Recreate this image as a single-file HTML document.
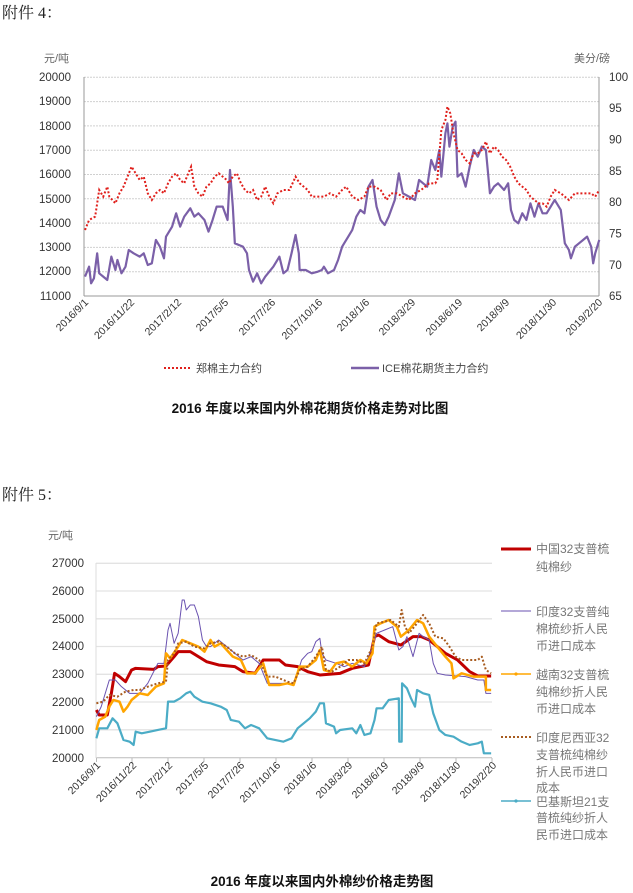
<!DOCTYPE html>
<html><head><meta charset="utf-8"><style>
html,body{margin:0;padding:0;background:#fff;width:633px;height:893px;overflow:hidden}
svg{display:block}
text{font-family:"Liberation Sans","Noto Sans CJK SC",sans-serif}
</style></head><body>
<svg width="633" height="893" viewBox="0 0 633 893" xmlns="http://www.w3.org/2000/svg">
<text x="2" y="18" font-size="16" fill="#222" style="font-family:'Liberation Serif','Noto Serif CJK SC',serif">附件 4：</text>
<text x="2" y="500" font-size="16" fill="#222" style="font-family:'Liberation Serif','Noto Serif CJK SC',serif">附件 5：</text>

<!-- Chart 1 -->
<g stroke="#d0d0d0" stroke-width="1" stroke-dasharray="2,1">
<line x1="84" x2="599" y1="77.3" y2="77.3"/><line x1="84" x2="599" y1="101.6" y2="101.6"/><line x1="84" x2="599" y1="125.9" y2="125.9"/><line x1="84" x2="599" y1="150.2" y2="150.2"/><line x1="84" x2="599" y1="174.5" y2="174.5"/><line x1="84" x2="599" y1="198.8" y2="198.8"/><line x1="84" x2="599" y1="223.1" y2="223.1"/><line x1="84" x2="599" y1="247.4" y2="247.4"/><line x1="84" x2="599" y1="271.7" y2="271.7"/>
</g>
<line x1="84" x2="599" y1="296" y2="296" stroke="#999"/>
<line x1="84" x2="84" y1="77" y2="296" stroke="#999"/>
<line x1="599" x2="599" y1="77" y2="296" stroke="#999"/>
<g font-size="11.5" fill="#333" text-anchor="end">
<text x="71" y="81">20000</text><text x="71" y="105">19000</text><text x="71" y="130">18000</text><text x="71" y="154">17000</text><text x="71" y="178">16000</text><text x="71" y="203">15000</text><text x="71" y="227">14000</text><text x="71" y="251">13000</text><text x="71" y="275">12000</text><text x="71" y="300">11000</text>
</g>
<g font-size="11.5" fill="#333">
<text x="609" y="81">100</text><text x="609" y="112">95</text><text x="609" y="143.5">90</text><text x="609" y="175">85</text><text x="609" y="206">80</text><text x="609" y="237.5">75</text><text x="609" y="269">70</text><text x="609" y="300">65</text>
</g>
<text x="44" y="62" font-size="11" fill="#666">元/吨</text>
<text x="574" y="62" font-size="11" fill="#666">美分/磅</text>
<g font-size="10.5" fill="#333" text-anchor="end">
<text transform="translate(89,303) rotate(-45)">2016/9/1</text>
<text transform="translate(135,303) rotate(-45)">2016/11/22</text>
<text transform="translate(182,303) rotate(-45)">2017/2/12</text>
<text transform="translate(229,303) rotate(-45)">2017/5/5</text>
<text transform="translate(276,303) rotate(-45)">2017/7/26</text>
<text transform="translate(323,303) rotate(-45)">2017/10/16</text>
<text transform="translate(370,303) rotate(-45)">2018/1/6</text>
<text transform="translate(416,303) rotate(-45)">2018/3/29</text>
<text transform="translate(463,303) rotate(-45)">2018/6/19</text>
<text transform="translate(510,303) rotate(-45)">2018/9/9</text>
<text transform="translate(557,303) rotate(-45)">2018/11/30</text>
<text transform="translate(603,303) rotate(-45)">2019/2/20</text>
</g>
<g transform="translate(0,40) scale(0.4049,0.3333)" fill="none">
<polyline vector-effect="non-scaling-stroke" stroke="#7b60a8" stroke-width="2.2" stroke-linejoin="round" points="210,710 220,680 225,730 232,715 240,640 245,700 255,710 265,720 275,650 285,690 290,660 300,700 310,680 318,630 330,640 345,650 355,640 365,675 375,670 385,600 395,620 405,655 410,590 425,560 435,520 445,560 455,530 470,505 480,530 490,520 505,540 515,575 525,540 535,500 550,500 562,540 568,390 575,500 580,610 590,615 600,620 610,640 615,690 625,725 635,700 645,730 655,710 665,695 675,680 690,650 700,700 710,690 720,640 730,585 738,640 740,690 755,690 770,700 785,695 795,690 800,680 810,700 825,690 835,660 845,620 850,610 860,590 870,570 880,530 890,510 900,520 910,440 920,420 930,500 940,540 950,555 960,530 975,480 985,400 995,460 1010,470 1025,480 1035,420 1045,430 1055,440 1065,360 1075,390 1085,330 1090,410 1100,280 1105,250 1110,320 1118,260 1125,245 1130,410 1140,400 1150,440 1160,380 1170,330 1180,350 1190,320 1200,330 1210,460 1220,440 1230,430 1245,450 1255,430 1262,510 1270,540 1280,550 1290,520 1300,540 1310,490 1320,530 1330,490 1340,520 1350,520 1360,500 1370,480 1385,510 1395,610 1405,630 1410,655 1420,620 1430,610 1440,600 1450,590 1460,620 1465,670 1470,640 1480,600"/>
<polyline vector-effect="non-scaling-stroke" stroke="#e0201c" stroke-width="2" stroke-dasharray="2,2" points="210,570 220,540 235,530 240,490 245,450 255,470 265,440 270,470 285,490 295,460 305,440 315,410 325,380 335,400 345,420 355,410 365,460 375,480 385,460 395,450 405,460 415,430 425,410 435,400 445,420 455,430 465,400 472,380 480,440 490,460 500,470 510,440 520,430 530,410 540,400 550,410 560,420 565,430 575,410 585,400 595,430 605,450 615,460 625,450 635,480 645,470 655,440 665,470 675,490 685,460 700,450 715,450 730,410 740,430 750,440 760,450 770,470 785,470 800,470 815,460 830,470 845,450 855,440 870,470 885,480 900,470 910,440 925,440 940,450 955,480 965,460 980,460 995,470 1010,480 1025,460 1040,450 1060,430 1075,430 1080,420 1090,270 1100,240 1105,200 1112,220 1120,280 1130,330 1140,340 1150,360 1160,370 1170,340 1180,340 1190,330 1200,305 1210,340 1220,320 1230,330 1240,350 1250,360 1260,380 1270,410 1280,430 1290,440 1300,450 1310,470 1320,480 1330,490 1340,490 1350,500 1360,470 1370,450 1385,460 1395,470 1405,480 1420,460 1440,460 1460,460 1470,470 1480,450"/>
</g>
<line x1="164" x2="192" y1="368" y2="368" stroke="#e0201c" stroke-width="2" stroke-dasharray="2,2"/>
<text x="196" y="372" font-size="11" fill="#444">郑棉主力合约</text>
<line x1="351" x2="379" y1="368" y2="368" stroke="#7b60a8" stroke-width="2.5"/>
<text x="382" y="372" font-size="11" fill="#444">ICE棉花期货主力合约</text>
<text x="310" y="413" font-size="13.5" font-weight="bold" fill="#111" text-anchor="middle">2016 年度以来国内外棉花期货价格走势对比图</text>

<!-- Chart 2 -->
<g stroke="#e3e3e3" stroke-width="1.3">
<line x1="96" x2="492" y1="563.3" y2="563.3"/><line x1="96" x2="492" y1="591" y2="591"/><line x1="96" x2="492" y1="618.8" y2="618.8"/><line x1="96" x2="492" y1="646.5" y2="646.5"/><line x1="96" x2="492" y1="674.3" y2="674.3"/><line x1="96" x2="492" y1="702" y2="702"/><line x1="96" x2="492" y1="729.8" y2="729.8"/>
</g>
<line x1="96" x2="492" y1="757.7" y2="757.7" stroke="#bbb"/>
<line x1="96" x2="96" y1="563" y2="758" stroke="#ddd"/>
<g stroke="#bbb"><line x1="96.5" x2="96.5" y1="758" y2="762"/><line x1="132" x2="132" y1="758" y2="762"/><line x1="168" x2="168" y1="758" y2="762"/><line x1="204" x2="204" y1="758" y2="762"/><line x1="240" x2="240" y1="758" y2="762"/><line x1="276" x2="276" y1="758" y2="762"/><line x1="312" x2="312" y1="758" y2="762"/><line x1="348" x2="348" y1="758" y2="762"/><line x1="384" x2="384" y1="758" y2="762"/><line x1="420" x2="420" y1="758" y2="762"/><line x1="456" x2="456" y1="758" y2="762"/><line x1="492" x2="492" y1="758" y2="762"/></g>
<g font-size="11.5" fill="#333" text-anchor="end">
<text x="84" y="567">27000</text><text x="84" y="595">26000</text><text x="84" y="623">25000</text><text x="84" y="650">24000</text><text x="84" y="678">23000</text><text x="84" y="706">22000</text><text x="84" y="734">21000</text><text x="84" y="762">20000</text>
</g>
<text x="48" y="539" font-size="11" fill="#666">元/吨</text>
<g font-size="10.5" fill="#333" text-anchor="end">
<text transform="translate(101,766) rotate(-45)">2016/9/1</text>
<text transform="translate(137,766) rotate(-45)">2016/11/22</text>
<text transform="translate(173,766) rotate(-45)">2017/2/12</text>
<text transform="translate(209,766) rotate(-45)">2017/5/5</text>
<text transform="translate(245,766) rotate(-45)">2017/7/26</text>
<text transform="translate(281,766) rotate(-45)">2017/10/16</text>
<text transform="translate(317,766) rotate(-45)">2018/1/6</text>
<text transform="translate(353,766) rotate(-45)">2018/3/29</text>
<text transform="translate(389,766) rotate(-45)">2018/6/19</text>
<text transform="translate(425,766) rotate(-45)">2018/9/9</text>
<text transform="translate(461,766) rotate(-45)">2018/11/30</text>
<text transform="translate(497,766) rotate(-45)">2019/2/20</text>
</g>
<g transform="translate(0,520) scale(0.4049,0.3333)" fill="none" stroke-linejoin="round">
<polyline vector-effect="non-scaling-stroke" stroke="#4bacc6" stroke-width="2.2" points="238,655 245,625 265,625 278,595 290,610 305,660 320,665 330,675 335,635 350,640 370,635 390,630 410,625 415,545 430,545 445,535 460,520 470,515 480,530 500,545 520,550 545,560 560,570 570,600 590,605 605,625 620,615 640,625 660,655 700,665 720,655 735,625 750,610 765,595 780,575 790,550 800,550 805,610 825,620 830,640 840,630 870,625 880,640 890,615 900,645 915,640 925,600 930,565 945,565 960,540 985,535 986,665 992,665 993,490 1005,505 1015,535 1025,560 1030,510 1045,520 1060,525 1070,580 1085,630 1100,645 1120,650 1140,665 1160,675 1180,670 1190,665 1195,700 1213,700"/>
<polyline vector-effect="non-scaling-stroke" stroke="#c00000" stroke-width="3" points="238,570 245,585 265,585 275,520 283,460 295,470 310,485 325,450 335,445 380,448 390,440 410,438 430,410 440,395 470,395 490,410 510,425 540,435 580,440 600,455 630,460 650,420 690,420 705,435 735,440 760,455 790,465 840,460 870,445 910,435 925,350 935,345 960,365 990,375 1020,350 1040,350 1060,360 1080,380 1100,400 1130,420 1160,455 1180,468 1213,468"/>
<polyline vector-effect="non-scaling-stroke" stroke="#6a52b0" stroke-width="1" points="238,590 250,560 270,480 285,480 300,500 320,520 345,520 365,490 390,430 405,430 415,330 420,310 430,370 440,340 450,240 455,240 460,270 470,255 480,255 490,290 500,360 510,380 520,380 540,360 560,380 580,400 600,420 620,410 640,430 660,490 700,490 725,495 745,420 760,400 770,395 780,365 790,355 795,400 805,420 830,430 850,440 870,430 900,440 920,380 930,340 950,330 970,320 985,390 995,380 1005,350 1020,410 1035,340 1045,350 1060,360 1070,430 1080,460 1100,465 1150,470 1180,480 1195,480 1200,520 1213,520"/>
<polyline vector-effect="non-scaling-stroke" stroke="#ffa500" stroke-width="2.5" points="238,630 245,600 260,590 270,560 280,540 295,545 305,575 315,560 325,540 345,520 365,525 385,500 405,490 410,400 420,415 440,380 450,360 470,370 490,380 505,395 520,360 530,380 545,370 560,390 575,410 595,420 610,460 630,460 650,430 665,495 690,495 710,490 725,495 740,440 760,440 780,420 790,390 800,450 815,455 830,430 850,425 870,440 890,420 905,430 920,400 925,320 940,310 960,300 980,320 990,350 1010,330 1030,300 1045,310 1060,350 1080,380 1100,410 1115,430 1120,475 1140,460 1170,470 1200,470 1200,510 1213,510"/>
<polyline vector-effect="non-scaling-stroke" stroke="#a85c20" stroke-width="2" stroke-dasharray="2,2" points="238,550 255,545 270,525 290,530 310,515 330,510 345,510 365,500 390,490 410,485 415,420 430,400 440,370 460,365 480,380 505,385 520,370 540,365 560,380 580,400 600,410 620,405 640,420 660,470 680,470 710,485 725,490 740,450 760,440 780,410 795,380 805,450 820,455 840,440 860,420 880,420 900,430 920,380 930,310 950,305 965,300 985,320 992,270 1000,320 1010,340 1030,310 1045,285 1060,310 1075,350 1095,355 1110,380 1125,410 1140,420 1160,420 1180,420 1190,410 1200,450 1213,460"/>
</g>
<!-- Legend 2 -->
<g font-size="12" fill="#777">
<line x1="501" x2="531" y1="549" y2="549" stroke="#c00000" stroke-width="3"/>
<text x="536" y="553">中国32支普梳</text><text x="536" y="571">纯棉纱</text>
<line x1="501" x2="531" y1="611" y2="611" stroke="#6a52b0" stroke-width="1"/>
<text x="536" y="616">印度32支普纯</text><text x="536" y="633">棉梳纱折人民</text><text x="536" y="650">币进口成本</text>
<line x1="501" x2="531" y1="674" y2="674" stroke="#ffa500" stroke-width="1.5"/><circle cx="516" cy="674" r="1.6" fill="#ffa500"/>
<text x="536" y="679">越南32支普梳</text><text x="536" y="696">纯棉纱折人民</text><text x="536" y="713">币进口成本</text>
<line x1="501" x2="531" y1="737" y2="737" stroke="#a85c20" stroke-width="2" stroke-dasharray="2,2"/>
<text x="536" y="742">印度尼西亚32</text><text x="536" y="759">支普梳纯棉纱</text><text x="536" y="776">折人民币进口</text><text x="536" y="792">成本</text>
<line x1="501" x2="531" y1="801" y2="801" stroke="#4bacc6" stroke-width="1.5"/><circle cx="516" cy="801" r="1.6" fill="#4bacc6"/>
<text x="536" y="806">巴基斯坦21支</text><text x="536" y="822">普梳纯纱折人</text><text x="536" y="839">民币进口成本</text>
</g>
<text x="322" y="886" font-size="13.5" font-weight="bold" fill="#111" text-anchor="middle">2016 年度以来国内外棉纱价格走势图</text>
</svg>
</body></html>
